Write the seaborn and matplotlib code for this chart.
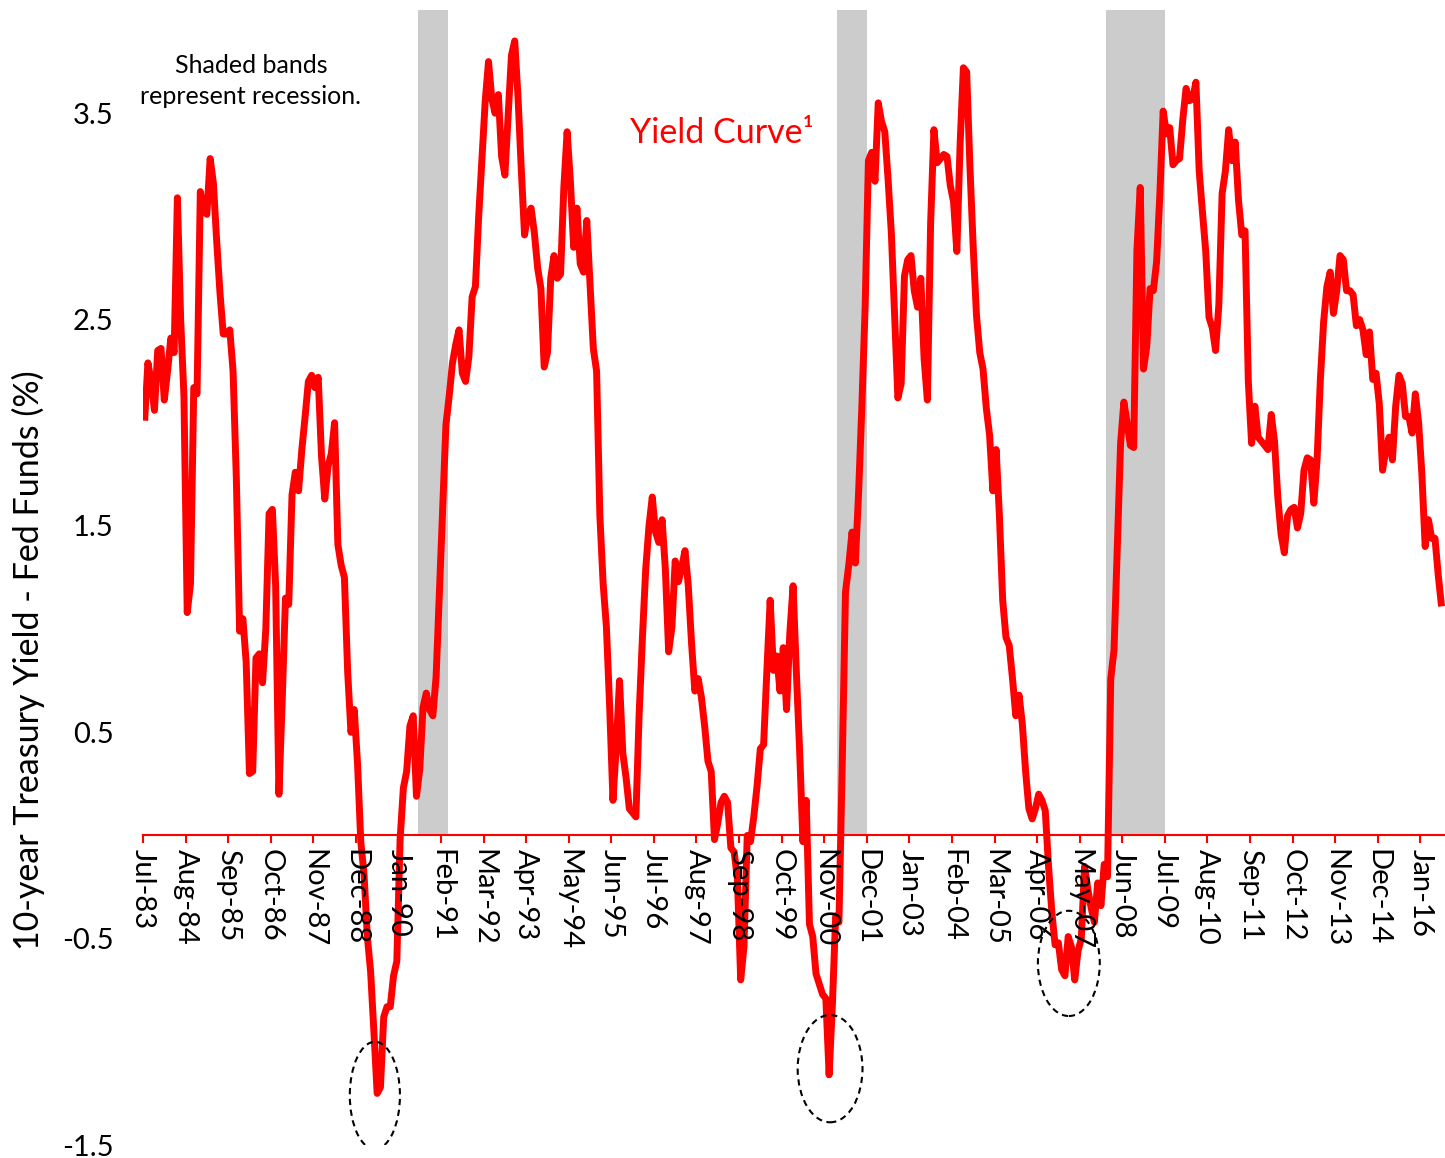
import numpy as np
import pandas as pd
import matplotlib
matplotlib.use("Agg")
import matplotlib.pyplot as plt
from matplotlib.patches import Ellipse
import seaborn as sns

# ---------------------------------------------------------------------------
# Data: 10-year Treasury yield minus Fed Funds rate (%), monthly from Jul-1983
# ---------------------------------------------------------------------------
START = "1983-07"

spread = [
    2.01, 2.29, 2.20, 2.06, 2.35, 2.36,                                  # 1983 (Jul-Dec)
    2.11, 2.25, 2.41, 2.34, 3.09, 2.50, 2.13, 1.08, 1.22, 2.17, 2.14, 3.12,  # 1984
    3.03, 3.01, 3.28, 3.16, 2.88, 2.63, 2.43, 2.43, 2.45, 2.25, 1.73, 0.99,  # 1985
    1.05, 0.84, 0.30, 0.31, 0.86, 0.88, 0.74, 1.00, 1.56, 1.58, 1.21, 0.20,  # 1986
    0.65, 1.15, 1.12, 1.65, 1.76, 1.67, 1.87, 2.03, 2.20, 2.23, 2.17, 2.22,  # 1987
    1.84, 1.63, 1.79, 1.85, 2.00, 1.41, 1.31, 1.25, 0.79, 0.50, 0.61, 0.35,  # 1988
    -0.03, -0.19, -0.49, -0.66, -0.95, -1.25, -1.22, -0.88, -0.83, -0.83, -0.68, -0.61,  # 1989
    -0.02, 0.23, 0.31, 0.53, 0.58, 0.19, 0.32, 0.62, 0.69, 0.61, 0.58, 0.77,  # 1990
    1.18, 1.60, 1.99, 2.13, 2.29, 2.38, 2.45, 2.24, 2.20, 2.32, 2.61, 2.66,  # 1991
    3.00, 3.28, 3.56, 3.75, 3.57, 3.50, 3.59, 3.29, 3.20, 3.49, 3.78, 3.85,  # 1992
    3.58, 3.23, 2.91, 3.01, 3.04, 2.92, 2.75, 2.65, 2.27, 2.34, 2.70, 2.81,  # 1993
    2.70, 2.72, 3.14, 3.41, 3.17, 2.85, 3.04, 2.77, 2.73, 2.98, 2.67, 2.36,  # 1994
    2.25, 1.55, 1.22, 1.01, 0.62, 0.17, 0.43, 0.75, 0.40, 0.28, 0.13, 0.11,  # 1995
    0.09, 0.59, 0.96, 1.29, 1.50, 1.64, 1.47, 1.42, 1.53, 1.29, 0.89, 1.01,  # 1996
    1.33, 1.23, 1.30, 1.38, 1.21, 0.93, 0.70, 0.76, 0.67, 0.53, 0.36, 0.31,  # 1997
    -0.02, 0.06, 0.16, 0.19, 0.16, -0.06, -0.08, -0.21, -0.70, -0.54, 0.00, -0.03,  # 1998
    0.09, 0.24, 0.42, 0.44, 0.80, 1.14, 0.80, 0.87, 0.70, 0.91, 0.61, 0.98,  # 1999
    1.21, 0.79, 0.41, -0.03, 0.17, -0.43, -0.49, -0.67, -0.72, -0.77, -0.79, -1.16,  # 2000
    -0.82, -0.39, -0.42, 0.34, 1.18, 1.31, 1.47, 1.32, 1.66, 2.08, 2.56, 3.27,  # 2001
    3.31, 3.17, 3.55, 3.46, 3.41, 3.18, 2.92, 2.52, 2.12, 2.19, 2.71, 2.79,  # 2002
    2.81, 2.64, 2.56, 2.70, 2.31, 2.11, 2.97, 3.42, 3.26, 3.28, 3.30, 3.29,  # 2003
    3.15, 3.07, 2.83, 3.35, 3.72, 3.70, 3.24, 2.85, 2.52, 2.34, 2.26, 2.07,  # 2004
    1.94, 1.67, 1.87, 1.55, 1.14, 0.96, 0.92, 0.76, 0.58, 0.68, 0.54, 0.31,  # 2005
    0.13, 0.08, 0.13, 0.20, 0.17, 0.12, -0.15, -0.37, -0.53, -0.52, -0.65, -0.68,  # 2006
    -0.49, -0.54, -0.70, -0.56, -0.50, -0.15, -0.26, -0.35, -0.42, -0.23, -0.34, -0.14,  # 2007
    -0.20, 0.76, 0.90, 1.40, 1.90, 2.10, 2.00, 1.89, 1.88, 2.84, 3.14, 2.26,  # 2008
    2.37, 2.65, 2.64, 2.78, 3.11, 3.51, 3.40, 3.43, 3.25, 3.27, 3.28, 3.47,  # 2009
    3.62, 3.56, 3.57, 3.65, 3.22, 3.02, 2.83, 2.51, 2.46, 2.35, 2.57, 3.11,  # 2010
    3.22, 3.42, 3.27, 3.36, 3.08, 2.91, 2.93, 2.20, 1.90, 2.08, 1.93, 1.91,  # 2011
    1.89, 1.87, 2.04, 1.91, 1.64, 1.46, 1.37, 1.55, 1.58, 1.59, 1.49, 1.56,  # 2012
    1.77, 1.83, 1.82, 1.61, 1.82, 2.21, 2.49, 2.66, 2.73, 2.53, 2.64, 2.81,  # 2013
    2.79, 2.64, 2.64, 2.62, 2.47, 2.50, 2.45, 2.33, 2.44, 2.21, 2.24, 2.09,  # 2014
    1.77, 1.87, 1.93, 1.82, 2.08, 2.23, 2.19, 2.03, 2.03, 1.95, 2.14, 2.00,  # 2015
    1.75, 1.40, 1.53, 1.44, 1.44, 1.26, 1.11,                            # 2016 (Jan-Jul)
]

# Recessions (first and last month of each shaded band)
recession_starts = ["1990-07", "2001-03", "2008-01"]
recession_ends = ["1991-03", "2001-11", "2009-06"]

# Inversion troughs that get a dashed circle
circled_troughs = ["1989-06", "2000-12", "2007-03"]

# Category labels shown every 13 months
tick_labels = [
    "Jul-83", "Aug-84", "Sep-85", "Oct-86", "Nov-87", "Dec-88", "Jan-90",
    "Feb-91", "Mar-92", "Apr-93", "May-94", "Jun-95", "Jul-96", "Aug-97",
    "Sep-98", "Oct-99", "Nov-00", "Dec-01", "Jan-03", "Feb-04", "Mar-05",
    "Apr-06", "May-07", "Jun-08", "Jul-09", "Aug-10", "Sep-11", "Oct-12",
    "Nov-13", "Dec-14", "Jan-16",
]
y_ticks = [-1.5, -0.5, 0.5, 1.5, 2.5, 3.5]
y_tick_labels = ["-1.5", "-0.5", "0.5", "1.5", "2.5", "3.5"]

# ---------------------------------------------------------------------------
# Styling
# ---------------------------------------------------------------------------
sns.set_theme(style="white")
plt.rcParams["font.family"] = ["Lato", "DejaVu Sans"]

RED = "#FF0000"
GREY = "#CCCCCC"
Y_MIN, Y_MAX = -1.5, 4.0

start = pd.Period(START, freq="M")


def month_offset(label):
    return (pd.Period(label, freq="M") - start).n


# each monthly observation sits in the middle of its month slot
df = pd.DataFrame({"month": np.arange(len(spread)) + 0.5, "spread": spread})

W_PX, H_PX = 1445, 1158
fig = plt.figure(figsize=(W_PX / 100, H_PX / 100), dpi=100)
ax = fig.add_axes([143 / W_PX, 1 - 1145 / H_PX, (W_PX - 143) / W_PX, (1145 - 10) / H_PX])

# recession bands: from the zero line up to the top
zero_frac = (0 - Y_MIN) / (Y_MAX - Y_MIN)
for s, e in zip(recession_starts, recession_ends):
    ax.axvspan(month_offset(s), month_offset(e) + 1, ymin=zero_frac, ymax=1,
               color=GREY, lw=0, zorder=0)

sns.lineplot(data=df, x="month", y="spread", color=RED, lw=5.0, ax=ax,
             zorder=3, solid_joinstyle="round", solid_capstyle="butt")

# dashed circles around the deepest inversions
ellipse_shape = [(-0.7, -0.01, 15.3, 0.52), (0.3, 0.03, 19.8, 0.52), (-1.8, 0.08, 18.9, 0.51)]
for trough, (dx, dy, w, h) in zip(circled_troughs, ellipse_shape):
    i = month_offset(trough)
    ax.add_patch(Ellipse((i + 0.5 + dx, spread[i] + dy), w, h, fill=False,
                         edgecolor="black", lw=1.5, linestyle=(0, (3, 2.2)), zorder=4))

ax.set_xlim(0, (W_PX - 143) / 3.275)
ax.set_ylim(Y_MIN, Y_MAX)

# x axis drawn as a red line at zero
for side in ("top", "right", "left"):
    ax.spines[side].set_visible(False)
ax.spines["bottom"].set_position(("data", 0))
ax.spines["bottom"].set_color(RED)
ax.spines["bottom"].set_linewidth(1.5)

ax.set_xticks(np.arange(0, len(spread), 13))
ax.set_xticklabels(tick_labels, rotation=-90, ha="center", va="top")
ax.tick_params(axis="x", direction="out", length=6, width=1.5, color=RED,
               labelcolor="black", pad=4, labelsize=21, bottom=True)
# date labels sit on top of the curve where it dips below zero
ax.xaxis.set_zorder(5)

ax.set_yticks(y_ticks)
ax.set_yticklabels(y_tick_labels)
ax.tick_params(axis="y", length=0, pad=21, labelsize=21, labelcolor="black")

ax.set_xlabel("")
ax.set_ylabel("10-year Treasury Yield - Fed Funds (%)", fontsize=24.5, color="black")
ax.yaxis.set_label_coords((28 - 143) / 1302, (1145 - 660) / 1135)
ax.yaxis.label.set_verticalalignment("center")

ax.text((251 - 143) / 1302, (1145 - 81) / 1135, "Shaded bands\nrepresent recession.",
        transform=ax.transAxes, ha="center", va="center", fontsize=18,
        linespacing=1.45, color="black")
ax.text((722 - 143) / 1302, (1145 - 133) / 1135, "Yield Curve\u00b9",
        transform=ax.transAxes, ha="center", va="center", fontsize=24.5, color=RED)

fig.savefig("out.png", dpi=100)
